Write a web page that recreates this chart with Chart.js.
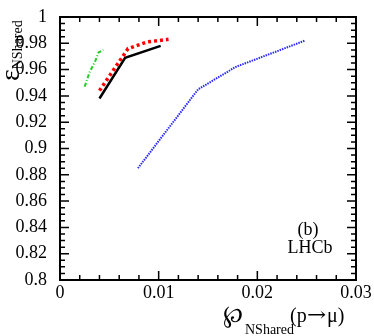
<!DOCTYPE html>
<html>
<head>
<meta charset="utf-8">
<script src="https://cdn.jsdelivr.net/npm/chart.js@4.4.1/dist/chart.umd.min.js"></script>
<style>
  html, body { margin: 0; padding: 0; background: #fff; }
  #wrap { width: 374px; height: 336px; }
</style>
</head>
<body>
<div id="wrap"><canvas id="c" width="374" height="336"></canvas></div>
<script>
// values
const blackX = [0.0040, 0.0066, 0.0102];
const blackY = [0.938, 0.969, 0.978];
const redX = [0.0040, 0.0069, 0.0088, 0.0110];
const redY = [0.944, 0.976, 0.981, 0.983];
const greenX = [0.0025, 0.0030, 0.0036, 0.0039, 0.0044];
const greenY = [0.947, 0.958, 0.967, 0.973, 0.975];
const blueX = [0.0079, 0.0140, 0.0178, 0.0248];
const blueY = [0.885, 0.945, 0.962, 0.982];

const xTicks = [0, 0.01, 0.02, 0.03];
const yTicks = [0.8, 0.82, 0.84, 0.86, 0.88, 0.9, 0.92, 0.94, 0.96, 0.98, 1];

function pts(xs, ys) {
  return xs.map((x, i) => ({ x: x, y: ys[i] }));
}

const serif = "'Liberation Serif', 'DejaVu Serif', serif";

// frame, inside ticks, titles and labels
const decor = {
  id: 'decor',
  afterDraw(chart) {
    const ctx = chart.ctx;
    const a = chart.chartArea;
    const xs = chart.scales.x, ys = chart.scales.y;
    ctx.save();
    ctx.strokeStyle = '#000';
    ctx.lineWidth = 2;
    ctx.strokeRect(a.left, a.top, a.right - a.left, a.bottom - a.top);

    ctx.lineWidth = 1.5;
    ctx.beginPath();
    // x ticks, every 0.002, major every 0.01
    for (let i = 0; i <= 15; i++) {
      const px = xs.getPixelForValue(i * 0.002);
      const len = (i % 5 === 0) ? 9 : 5;
      ctx.moveTo(px, a.bottom); ctx.lineTo(px, a.bottom - len);
      ctx.moveTo(px, a.top); ctx.lineTo(px, a.top + len);
    }
    // y ticks, every 0.005, major every 0.02
    for (let i = 0; i <= 40; i++) {
      const py = ys.getPixelForValue(0.8 + i * 0.005);
      const len = (i % 4 === 0) ? 9 : 5;
      ctx.moveTo(a.left, py); ctx.lineTo(a.left + len, py);
      ctx.moveTo(a.right, py); ctx.lineTo(a.right - len, py);
    }
    ctx.stroke();

    ctx.fillStyle = '#000';
    ctx.textBaseline = 'alphabetic';
    ctx.textAlign = 'left';

    // x title
    ctx.font = '24px ' + serif;
    ctx.fillText('\u2118', 223, 322);
    ctx.font = '14px ' + serif;
    ctx.fillText('NShared', 245, 334);
    ctx.font = '20px ' + serif;
    ctx.fillText('(p', 290, 322);
    ctx.font = '20px DejaVu Serif';
    ctx.save();
    ctx.scale(1.15, 1);
    ctx.fillText('\u2192', 307 / 1.15, 321);
    ctx.restore();
    ctx.font = '20px ' + serif;
    ctx.fillText('\u03bc)', 327, 322);

    // y title
    ctx.save();
    ctx.translate(19, 81);
    ctx.rotate(-Math.PI / 2);
    ctx.font = '28px ' + serif;
    ctx.fillText('\u03b5', 0, 0);
    const w = ctx.measureText('\u03b5').width;
    ctx.font = '14px ' + serif;
    ctx.fillText('NShared', w, 3);
    ctx.restore();

    // labels
    ctx.font = '18px ' + serif;
    ctx.textAlign = 'center';
    ctx.fillText('(b)', 308, 235);
    ctx.fillText('LHCb', 310, 253);
    ctx.restore();
  }
};

new Chart(document.getElementById('c'), {
  type: 'scatter',
  data: {
    datasets: [
      { data: pts(blueX, blueY), borderColor: '#2828ff', borderWidth: 2, borderDash: [1.5, 1], showLine: true, pointRadius: 0 },
      { data: pts(redX, redY), borderColor: '#ff0000', borderWidth: 3.5, borderDash: [3, 3], showLine: true, pointRadius: 0 },
      { data: pts(greenX, greenY), borderColor: '#22cc22', borderWidth: 2, borderDash: [4, 2, 1, 2], showLine: true, pointRadius: 0 },
      { data: pts(blackX, blackY), borderColor: '#000000', borderWidth: 2.5, showLine: true, pointRadius: 0 }
    ]
  },
  options: {
    responsive: false,
    animation: false,
    layout: { padding: { top: 17, right: 18, left: 0, bottom: 0 } },
    plugins: { legend: { display: false }, tooltip: { enabled: false } },
    scales: {
      x: {
        type: 'linear', min: 0, max: 0.03,
        afterBuildTicks: s => { s.ticks = xTicks.map(v => ({ value: v })); },
        afterFit: s => { s.height = 56; },
        grid: { display: false },
        border: { display: false },
        ticks: { color: '#000', font: { family: serif, size: 18 }, padding: -6, maxRotation: 0,
                 callback: v => String(+v.toFixed(3)) }
      },
      y: {
        type: 'linear', min: 0.8, max: 1,
        afterBuildTicks: s => { s.ticks = yTicks.map(v => ({ value: v })); },
        afterFit: s => { s.width = 60; },
        grid: { display: false },
        border: { display: false },
        ticks: { color: '#000', font: { family: serif, size: 18 }, padding: 5,
                 callback: v => String(+v.toFixed(3)) }
      }
    }
  },
  plugins: [decor]
});
</script>
</body>
</html>
